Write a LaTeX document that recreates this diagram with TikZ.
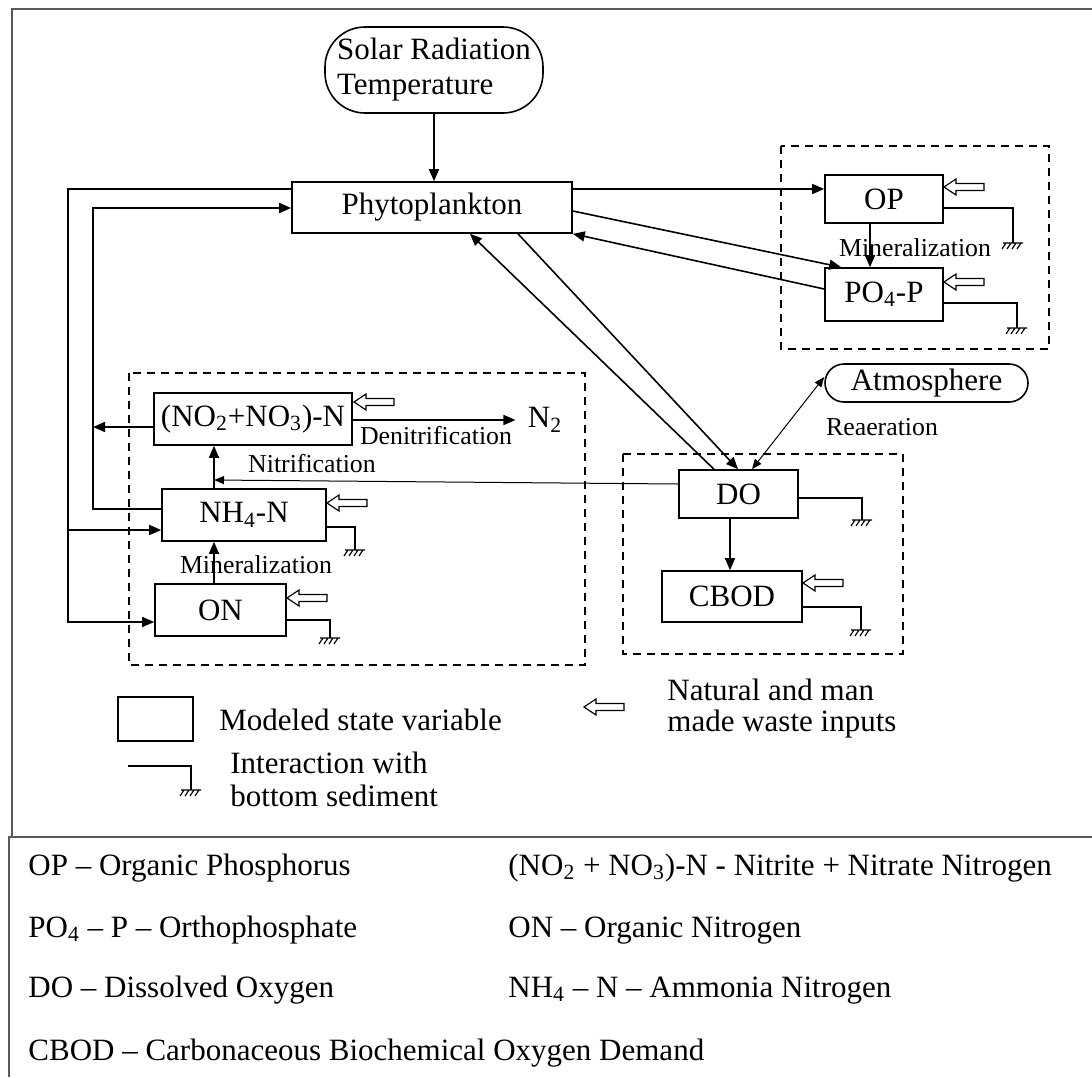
\documentclass[tikz,border=0pt]{standalone}
\usepackage{fontspec}
\setmainfont{Liberation Serif}
\usetikzlibrary{arrows.meta}

\begin{document}
\begin{tikzpicture}[x=0.5pt, y=-0.5pt, font=\fontsize{15.5}{17.5}\selectfont,
  every node/.style={inner sep=0pt},
  statevar/.style={draw, line width=0.8pt},
  source/.style={draw, line width=0.8pt, rounded corners=#1},
  proc/.style={font=\fontsize{12.9}{14}\selectfont},
  flow/.style={line width=0.8pt, -{Triangle[length=6pt,width=5pt]}},
  thinflow/.style={line width=0.5pt, -{Triangle[length=5pt,width=4pt]}},
  thinboth/.style={line width=0.5pt, {Triangle[length=5pt,width=4pt]}-{Triangle[length=5pt,width=4pt]}},
  sedline/.style={line width=0.7pt},
  groupbox/.style={dash pattern=on 4pt off 3pt, line width=0.7pt},
  outerframe/.style={line width=0.7pt, black!65},
  inflow/.pic={\draw[line width=0.6pt, fill=white] (0,0) -- (12,-8) -- (12,-3.5) -- (40,-3.5) -- (40,3.5) -- (12,3.5) -- (12,8) -- cycle;},
  bed/.pic={\draw[line width=0.6pt] (-10,0) -- (10,0) foreach \t in {-7,-2,3,8} {(\t,0) -- ++(-4,6)};}]
\useasboundingbox (0,0) rectangle (1092,1077);

% frames
\draw[outerframe] (12,837) -- (12,9) -- (1092,9);
\draw[outerframe] (1092,837) -- (9,837) -- (9,1077);

% groups
\draw[groupbox] (781,146) rectangle (1049,349);
\draw[groupbox] (129,373) rectangle (585,665);
\draw[groupbox] (623,454) rectangle (903,654);

% state variables
\node[source=20pt, minimum width=109pt, minimum height=43pt, align=left] (solar) at (434,70) {Solar Radiation\\Temperature};
\node[statevar, minimum width=140pt, minimum height=25.5pt] (phyto) at (432,207.5) {Phytoplankton};
\node[statevar, minimum width=59pt, minimum height=24pt] (op) at (884,199) {OP};
\node[statevar, minimum width=59pt, minimum height=26.5pt] (po4) at (884,294.5) {PO\textsubscript{4}-P};
\node[statevar, minimum width=99pt, minimum height=26pt] (no) at (253,419) {(NO\textsubscript{2}+NO\textsubscript{3})-N};
\node[statevar, minimum width=82pt, minimum height=26pt] (nh4) at (244,515) {NH\textsubscript{4}-N};
\node[statevar, minimum width=65.5pt, minimum height=26pt] (on) at (220.5,610) {ON};
\node[statevar, minimum width=59.5pt, minimum height=24pt] (do) at (738.5,494) {DO};
\node[statevar, minimum width=70pt, minimum height=25.5pt] (cbod) at (732,596.5) {CBOD};
\node[source=9.5pt, minimum width=101.5pt, minimum height=19pt] (atmo) at (926.5,383) {Atmosphere};
\node[inner sep=6pt] (n2) at (545,420) {N\textsubscript{2}};

% process labels
\node[proc] (minp) at (915,248) {Mineralization};
\node[proc] (reaer) at (882,427) {Reaeration};
\node[proc] (denit) at (436,436) {Denitrification};
\node[proc] (nitr) at (312,464) {Nitrification};
\node[proc] (minn) at (256,565) {Mineralization};

% loops on the left
\coordinate (outtop) at (68,189);
\coordinate (outmid) at (68,530);
\coordinate (outbot) at (68,622);
\coordinate (intop) at (93,208);
\coordinate (inbot) at (93,509);
\coordinate (nitrin) at (214,480);
\draw[flow] (phyto.west |- outtop) -- (outtop) -- (outbot) -- (on.west |- outbot);
\draw[flow] (outmid) -- (nh4.west |- outmid);
\draw[flow] (nh4.west |- inbot) -- (inbot) -- (intop) -- (phyto.west |- intop);
\draw[flow] (no.west |- 0,427) -- (inbot |- 0,427);

% connectors
\draw[flow] (solar.south) -- (solar.south |- phyto.north);
\draw[flow] (phyto.east |- 0,189) -- (op.west |- 0,189);
\draw[flow] (phyto.east |- 0,211) -- ([xshift=8.5pt]po4.north west);
\draw[flow] (po4.west |- 0,289) -- (phyto.south east);
\draw[flow] (op.south -| 870,0) -- (po4.north -| 870,0);
\draw[flow] (do.north -| 714,0) -- (phyto.south -| 470,0);
\draw[flow] (phyto.south -| 518,0) -- (do.north -| 738,0);
\draw[thinboth] (do.north -| 752,0) -- (atmo.west |- 0,377);
\draw[flow] (do.south -| 730,0) -- (cbod.north -| 730,0);
\draw[thinflow] (do.west |- 0,484) -- (nitrin);
\draw[flow] (nh4.north -| nitrin) -- (no.south -| nitrin);
\draw[flow] (on.north -| nitrin) -- (nh4.south -| nitrin);
\draw[flow] (no.east |- n2) -- (n2);

% waste inputs
\pic at (944,187) {inflow};
\pic at (944,282) {inflow};
\pic at (354,402) {inflow};
\pic at (327,503) {inflow};
\pic at (287,598) {inflow};
\pic at (803,583) {inflow};

% bottom sediment
\coordinate (opbed) at (1013,243);
\coordinate (po4bed) at (1017,328);
\coordinate (nh4bed) at (355,550);
\coordinate (onbed) at (330,638);
\coordinate (dobed) at (862,520);
\coordinate (cbodbed) at (861,630);
\draw[sedline] (op.east |- 0,208) -| (opbed);
\draw[sedline] (po4.east |- 0,303) -| (po4bed);
\draw[sedline] (nh4.east |- 0,527) -| (nh4bed);
\draw[sedline] (on.east |- 0,620) -| (onbed);
\draw[sedline] (do.east |- 0,498) -| (dobed);
\draw[sedline] (cbod.east |- 0,607) -| (cbodbed);
\foreach \b in {opbed,po4bed,nh4bed,onbed,dobed,cbodbed}
  \pic at (\b) {bed};

% legend
\node[statevar, minimum width=37.5pt, minimum height=22pt] (legbox) at (155.5,719) {};
\node[anchor=base west] (legboxtxt) at (219,730) {Modeled state variable};
\coordinate (legbedstart) at (128,766);
\coordinate (legbed) at (191,790);
\draw[sedline] (legbedstart) -| (legbed);
\pic at (legbed) {bed};
\node[anchor=base west] (legbedtxta) at (230,773) {Interaction with};
\node[anchor=base west] (legbedtxtb) at (230,806) {bottom sediment};
\pic at (584,707) {inflow};
\node[anchor=base west] (legintxta) at (667,700) {Natural and man};
\node[anchor=base west] (legintxtb) at (667,731) {made waste inputs};

% abbreviations
\node[anchor=base west] (abop) at (28,875) {OP – Organic Phosphorus};
\node[anchor=base west] (abno) at (508,875) {(NO\textsubscript{2} + NO\textsubscript{3})-N - Nitrite + Nitrate Nitrogen};
\node[anchor=base west] (abpo) at (28,937) {PO\textsubscript{4} – P – Orthophosphate};
\node[anchor=base west] (abon) at (508,937) {ON – Organic Nitrogen};
\node[anchor=base west] (abdo) at (28,997) {DO – Dissolved Oxygen};
\node[anchor=base west] (abnh) at (508,997) {NH\textsubscript{4} – N – Ammonia Nitrogen};
\node[anchor=base west] (abcb) at (28,1060) {CBOD – Carbonaceous Biochemical Oxygen Demand};
\end{tikzpicture}
\end{document}
